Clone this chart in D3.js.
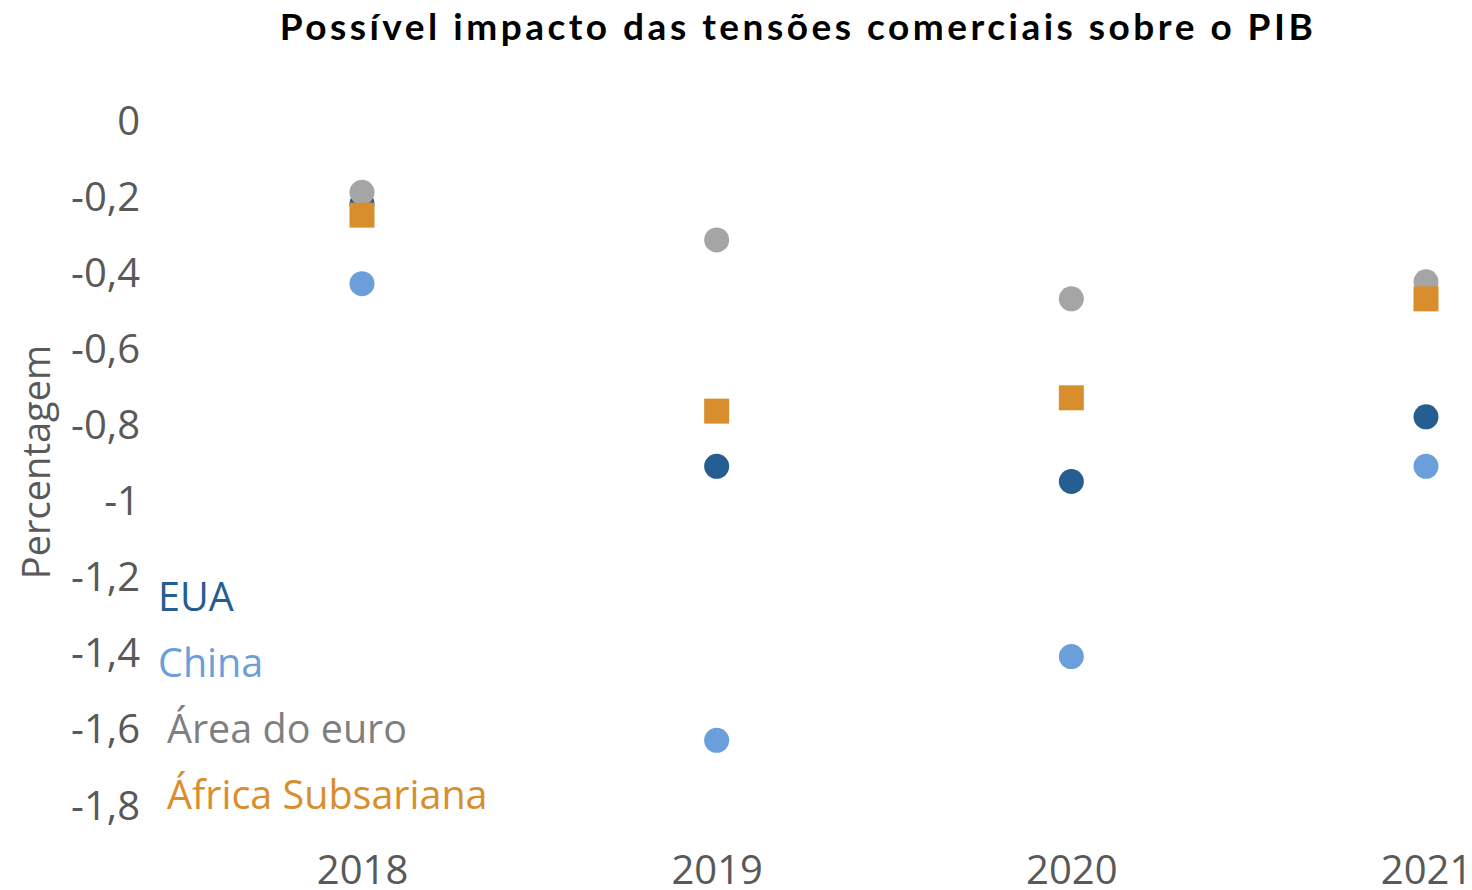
<!DOCTYPE html>
<html>
<head>
<meta charset="utf-8">
<script src="https://cdn.jsdelivr.net/npm/d3@7"></script>
<style>
  body { margin: 0; background: #fff; }
  text { font-family: "Open Sans", "Noto Sans", sans-serif; }
</style>
</head>
<body>
<svg id="chart" width="1472" height="890"></svg>
<script>
const years = ["2018", "2019", "2020", "2021"]
const yTicks = [0, -0.2, -0.4, -0.6, -0.8, -1, -1.2, -1.4, -1.6, -1.8]

const eua = [-0.22, -0.91, -0.95, -0.78]
const china = [-0.43, -1.63, -1.41, -0.91]
const euro = [-0.19, -0.315, -0.47, -0.425]
const africa = [-0.25, -0.765, -0.73, -0.47]

const seriesNames = ["EUA", "China", "Área do euro", "África Subsariana"]
const seriesColors = ["#255e91", "#6a9fdb", "#a5a5a5", "#d98e2e"]

const series = [
    { name: seriesNames[0], values: eua, color: seriesColors[0], shape: "circle" },
    { name: seriesNames[1], values: china, color: seriesColors[1], shape: "circle" },
    { name: seriesNames[2], values: euro, color: seriesColors[2], shape: "circle" },
    { name: seriesNames[3], values: africa, color: seriesColors[3], shape: "square" }
]

const svg = d3.select("#chart")

const x = d3.scalePoint()
    .domain(years)
    .range([362, 1426])

const y = d3.scaleLinear()
    .domain([0, -1.8])
    .range([120, 805])

// title
svg.append("text")
    .attr("x", 798)
    .attr("y", 40)
    .attr("text-anchor", "middle")
    .style("font-family", "Lato, 'Open Sans', sans-serif")
    .style("font-weight", "bold")
    .style("font-size", "37px")
    .style("letter-spacing", "3.5px")
    .attr("fill", "#000")
    .text("Possível impacto das tensões comerciais sobre o PIB")

// y axis (labels only)
const yAxis = d3.axisLeft(y)
    .tickValues(yTicks)
    .tickSize(0)
    .tickPadding(0)
    .tickFormat(d => d3.format(".1~f")(d).replace(".", ",").replace("−", "-"))

const yG = svg.append("g")
    .attr("transform", "translate(140,0)")
    .call(yAxis)
yG.select(".domain").remove()
yG.selectAll("text")
    .style("font-size", "40px")
    .attr("fill", "#595959")
    .attr("dy", "0.35em")

// x axis (labels only)
const xAxis = d3.axisBottom(x).tickSize(0).tickPadding(0)
const xG = svg.append("g")
    .attr("transform", "translate(0,884)")
    .call(xAxis)
xG.select(".domain").remove()
xG.selectAll("text")
    .style("font-size", "40px")
    .attr("fill", "#595959")
    .attr("dy", "0")

// y axis title
svg.append("text")
    .attr("transform", "translate(50,462) rotate(-90)")
    .attr("text-anchor", "middle")
    .style("font-size", "38px")
    .attr("fill", "#595959")
    .text("Percentagem")

// markers
const r = 12.5
series.forEach(s => {
    const g = svg.append("g")
    if (s.shape === "circle") {
        g.selectAll("circle")
            .data(s.values)
            .join("circle")
            .attr("cx", (d, i) => x(years[i]))
            .attr("cy", d => y(d))
            .attr("r", r)
            .attr("fill", s.color)
    } else {
        g.selectAll("rect")
            .data(s.values)
            .join("rect")
            .attr("x", (d, i) => x(years[i]) - r)
            .attr("y", d => y(d) - r)
            .attr("width", r * 2)
            .attr("height", r * 2)
            .attr("fill", s.color)
    }
})

// legend
const legendPos = [[158, 611], [158, 677], [167, 743], [167, 809]]
series.forEach((s, i) => {
    svg.append("text")
        .attr("x", legendPos[i][0])
        .attr("y", legendPos[i][1])
        .style("font-size", "39.5px")
        .attr("fill", s.color === "#a5a5a5" ? "#7f7f7f" : s.color)
        .text(s.name)
})
</script>
</body>
</html>
